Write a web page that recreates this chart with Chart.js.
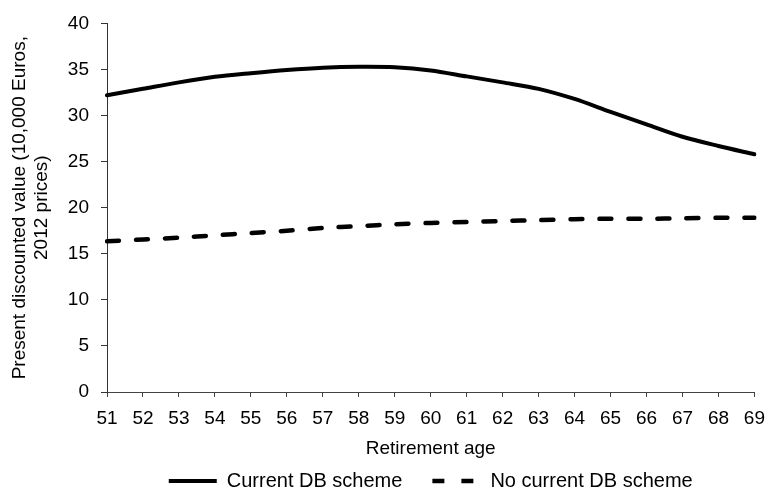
<!DOCTYPE html>
<html>
<head>
<meta charset="utf-8">
<script src="https://cdn.jsdelivr.net/npm/chart.js@4"></script>
<style>
  html, body { margin: 0; padding: 0; background: #fff; }
  #wrap { width: 775px; height: 490px; }
</style>
</head>
<body>
<div id="wrap"><canvas id="retireChart" width="775" height="490"></canvas></div>
<script>
// retirement ages on the x axis
var ages = ["51", "52", "53", "54", "55", "56", "57", "58", "59", "60",
            "61", "62", "63", "64", "65", "66", "67", "68", "69"];
// present discounted value, 10,000 euros (2012 prices)
var currentDB = [32.2, 32.9, 33.6, 34.2, 34.6, 34.95, 35.2, 35.3, 35.25, 34.9,
                 34.25, 33.6, 32.9, 31.8, 30.4, 29.05, 27.7, 26.7, 25.8];
var noCurrentDB = [16.35, 16.55, 16.75, 17.0, 17.25, 17.5, 17.8, 18.0, 18.2, 18.35,
                   18.45, 18.55, 18.65, 18.75, 18.8, 18.8, 18.85, 18.9, 18.9];
var yTicks = [0, 5, 10, 15, 20, 25, 30, 35, 40];

var font = "'Liberation Sans', Arial, sans-serif";
Chart.defaults.font.family = font;
Chart.defaults.font.size = 19;
Chart.defaults.color = "#000";

// centre the legend under the plot area (not the whole canvas)
var legendUnderPlot = {
    id: "legendUnderPlot",
    afterLayout: function (chart) {
        chart.legend.left = chart.chartArea.left;
        chart.legend.right = chart.chartArea.right;
    }
};

var ctx = document.getElementById("retireChart").getContext("2d");
var retireChart = new Chart(ctx, {
    type: "line",
    data: {
        labels: ages,
        datasets: [{
            label: "Current DB scheme",
            data: currentDB,
            borderColor: "#000",
            backgroundColor: "#000",
            borderWidth: 4,
            borderCapStyle: "round",
            pointRadius: 0,
            tension: 0.3,
            fill: false
        }, {
            label: "No current DB scheme",
            data: noCurrentDB,
            borderColor: "#000",
            backgroundColor: "#000",
            borderWidth: 4.5,
            borderDash: [12, 17],
            borderCapStyle: "round",
            pointRadius: 0,
            tension: 0.3,
            fill: false
        }]
    },
    plugins: [legendUnderPlot],
    options: {
        responsive: false,
        animation: false,
        layout: {
            padding: { left: 0, right: 13, top: 12, bottom: -11 }
        },
        plugins: {
            legend: {
                position: "bottom",
                labels: {
                    usePointStyle: true,
                    pointStyleWidth: 48,
                    boxHeight: 19,
                    padding: 30,
                    color: "#000",
                    font: { size: 20 },
                    generateLabels: function (chart) {
                        return chart.data.datasets.map(function (ds, i) {
                            return {
                                text: ds.label,
                                datasetIndex: i,
                                pointStyle: "line",
                                strokeStyle: "#000",
                                fillStyle: "#000",
                                lineWidth: ds.borderWidth,
                                lineDash: ds.borderDash || [],
                                lineCap: "butt",
                                hidden: false
                            };
                        });
                    }
                }
            },
            tooltip: { enabled: false }
        },
        scales: {
            x: {
                offset: false,
                afterFit: function (scale) {
                    scale.height = 49;
                },
                grid: {
                    drawOnChartArea: false,
                    drawTicks: true,
                    tickLength: 5,
                    color: "#444"
                },
                border: { display: true, color: "#444", width: 1 },
                ticks: {
                    padding: 10,
                    maxRotation: 0,
                    autoSkip: false,
                    color: "#000"
                },
                title: {
                    display: true,
                    text: "Retirement age",
                    color: "#000",
                    font: { size: 19 },
                    padding: { top: 4, bottom: -19 }
                }
            },
            y: {
                min: 0,
                max: 40,
                afterBuildTicks: function (scale) {
                    scale.ticks = yTicks.map(function (v) { return { value: v }; });
                },
                afterFit: function (scale) {
                    scale.width = 107;
                },
                grid: {
                    drawOnChartArea: false,
                    drawTicks: true,
                    tickLength: 6,
                    color: "#333"
                },
                border: { display: true, color: "#333", width: 1 },
                ticks: {
                    padding: 12,
                    color: "#000"
                },
                title: {
                    display: true,
                    text: ["Present discounted value (10,000 Euros,", "2012 prices)"],
                    color: "#000",
                    font: { size: 19 },
                    padding: { top: 8, bottom: 0 }
                }
            }
        }
    }
});
</script>
</body>
</html>
